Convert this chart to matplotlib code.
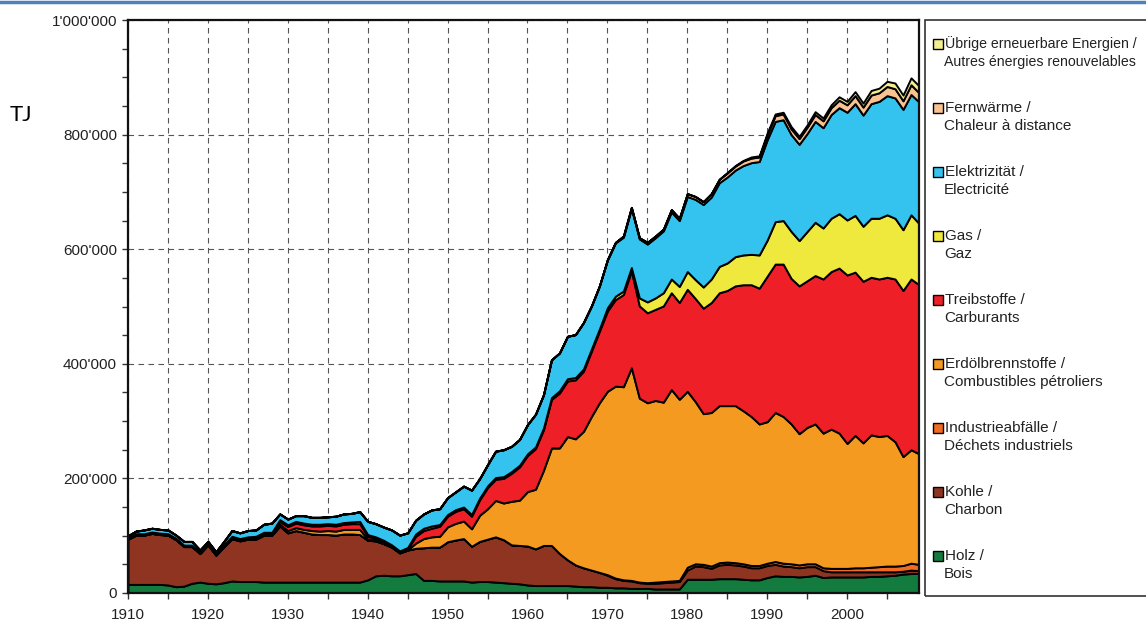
import matplotlib
matplotlib.use("Agg")
import matplotlib.pyplot as plt
from matplotlib.patches import Rectangle
from matplotlib.lines import Line2D
from matplotlib.ticker import MultipleLocator, FuncFormatter

# Endverbrauch nach Energieträgern, Werte in 1000 TJ, 1910-2009
years = list(range(1910, 2010))

holz = [15, 15, 15, 15, 15, 14, 11, 12, 17, 19,
        17, 16, 18, 21, 20, 20, 20, 19, 19, 19,
        19, 19, 19, 19, 19, 19, 19, 19, 19, 19,
        23, 30, 31, 30, 30, 32, 34, 22, 22, 21,
        21, 21, 21, 19, 20, 20, 19, 18, 17, 16,
        14, 13, 13, 13, 13, 13, 12, 11, 11, 10,
        10, 9, 9, 8, 8, 8, 7, 7, 7, 7,
        24, 24, 24, 24, 25, 25, 25, 24, 23, 23,
        27, 30, 29, 29, 28, 29, 31, 27, 28, 28,
        28, 28, 28, 29, 29, 30, 31, 33, 34, 34]

kohle = [79, 86, 86, 89, 87, 87, 82, 69, 64, 50,
         67, 50, 63, 74, 71, 74, 74, 82, 82, 98,
         86, 90, 87, 84, 83, 83, 82, 84, 84, 83,
         69, 61, 55, 50, 40, 43, 44, 57, 58, 59,
         68.5, 71.5, 74, 62.5, 70, 74, 79, 75, 67, 67,
         68, 64, 70, 70, 56, 45, 37, 33, 29, 26,
         21, 16, 13, 13, 10, 9, 10, 11, 12, 13,
         16, 23, 22, 19, 24, 25, 24, 23, 21, 21,
         21, 20, 18, 17, 16, 17, 15, 12, 9, 9,
         9, 9, 9, 8, 8, 7, 6, 5, 6, 5]

industrie = [0] * 60 + [
    1, 1, 1, 1, 1, 1, 2, 2, 2, 2,
    5, 4, 4, 4, 4, 4, 4, 4, 4, 4,
    4, 5, 5, 5, 5, 5, 5, 5, 6, 6,
    6, 7, 7, 8, 9, 10, 10, 10, 12, 11]

erdoel = [0.5, 0.5, 0.5, 0.5, 0.5, 0.5, 0.5, 0.5, 0.5, 0.5,
          0.5, 0.5, 0.5, 0.5, 0.5, 0.5, 0.5, 0.5, 0.5, 3,
          4, 5, 5, 6, 6, 7, 7, 8, 8, 9,
          2, 1, 1, 0.5, 0.5, 0.5, 9, 16, 18, 19,
          26, 29, 30.5, 30.5, 45.5, 53, 63.5, 64, 76, 79,
          95, 104, 131, 170, 184, 215, 220, 238, 268, 296,
          320, 335, 337, 371, 321, 314, 317, 313, 334, 316,
          307, 283, 263, 268, 274, 273, 274, 267, 260, 247,
          247, 260, 256, 244, 229, 238, 244, 235, 243, 236,
          218, 231, 218, 231, 227, 228, 217, 190, 198, 193]

treib = [0.5, 0.5, 0.5, 0.5, 0.5, 0.5, 0.5, 0.5, 0.5, 1,
         1, 1, 1, 2, 2, 2, 3, 3, 3, 5,
         7, 8, 8, 8, 9, 9, 9, 9, 10, 10,
         5, 3, 2, 1, 1, 2, 12, 14, 15, 17.5,
         18.5, 21, 21.5, 22, 27, 37, 37, 43, 49, 58,
         63, 71, 71, 85, 96, 97, 103, 105, 114, 125,
         140, 151, 161, 169, 161, 157, 159, 168, 169, 169,
         178, 180, 184, 192, 197, 201, 209, 220, 230, 237,
         254, 259, 266, 254, 258, 256, 259, 269, 275, 288,
         294, 285, 282, 275, 275, 276, 284, 290, 298, 295]

gas = [1.5, 1.5, 1.5, 1.5, 1.5, 1.5, 1.5, 1.5, 1.5, 1.5,
       1.5, 1.5, 1.5, 1.5, 1.5, 1.5, 1.5, 1.5, 1.5, 3,
       3, 3, 3, 3, 3, 3, 3, 3, 3, 4,
       3, 3, 3, 2.5, 2, 2, 4, 4, 4, 3,
       3, 3, 3, 3, 3, 3, 3, 3, 3, 3,
       3, 3, 3, 3, 4, 4, 4, 4, 4, 4,
       6, 6, 6, 6, 14, 19, 20, 23, 24, 28,
       31, 33, 37, 41, 46, 48, 51, 52, 53, 58,
       63, 74, 76, 82, 79, 86, 93, 89, 93, 95,
       96, 99, 96, 103, 106, 109, 106, 106, 112, 107]

elektrizitaet = [3.5, 4.5, 6.5, 6.5, 6.5, 6.5, 5.5, 6.5, 6.5, 3,
                 3, 3, 6, 10, 10, 11, 11, 14, 16, 10,
                 10, 10, 13, 12, 12, 12, 14, 15, 15, 17,
                 23, 23, 23, 26, 27.5, 25.5, 24, 25, 28, 27.5,
                 29.5, 31, 36.5, 42.5, 34, 37, 46, 47, 44, 45,
                 51, 57, 58, 66, 66, 74, 75, 81, 75, 75,
                 83, 93, 94, 103, 103, 101, 105, 108, 117, 115,
                 131, 140, 144, 143, 146, 150, 151, 156, 160, 163,
                 175, 175, 176, 169, 168, 171, 176, 175, 181, 185,
                 188, 195, 194, 200, 204, 208, 210, 210, 210, 212]

fernwaerme = [0] * 60 + [
    1, 1, 2, 2, 2, 3, 3, 3, 4, 4,
    5, 5, 5, 6, 6, 7, 7, 8, 8, 8,
    9, 10, 10, 10, 10, 11, 12, 12, 12, 13,
    13, 14, 14, 15, 15, 16, 16, 15, 17, 16]

uebrige = [0] * 75 + [
    1, 1, 1, 2, 2,
    3, 3, 3, 4, 4, 4, 5, 5, 5, 6,
    6, 7, 7, 8, 8, 9, 10, 10, 12, 12]

labels = [
    "Holz /\nBois",
    "Kohle /\nCharbon",
    "Industrieabfälle /\nDéchets industriels",
    "Erdölbrennstoffe /\nCombustibles pétroliers",
    "Treibstoffe /\nCarburants",
    "Gas /\nGaz",
    "Elektrizität /\nElectricité",
    "Fernwärme /\nChaleur à distance",
    "Übrige erneuerbare Energien /\nAutres énergies renouvelables",
]
colors = ["#137B3D", "#8E3421", "#F26B21", "#F49A20", "#EE1F27",
          "#EFE83D", "#34C3EF", "#F8C391", "#F3EE8E"]

plt.rcParams["font.family"] = ["Liberation Sans", "DejaVu Sans"]

W, H = 1146, 626
fig = plt.figure(figsize=(W / 100, H / 100), dpi=100)
ax = fig.add_axes([128 / W, 33 / H, 791 / W, 573 / H])

series = [holz, kohle, industrie, erdoel, treib, gas, elektrizitaet, fernwaerme, uebrige]
ax.stackplot(years, [[v * 1000 for v in s] for s in series],
             colors=colors, edgecolor="black", linewidth=1.4)

ax.set_xlim(1910, 2009)
ax.set_ylim(0, 1000000)
ax.xaxis.set_major_locator(MultipleLocator(10))
ax.xaxis.set_minor_locator(MultipleLocator(5))
ax.yaxis.set_major_locator(MultipleLocator(200000))
ax.yaxis.set_minor_locator(MultipleLocator(50000))
ax.yaxis.set_major_formatter(FuncFormatter(lambda v, p: f"{int(v):,}".replace(",", "'")))

ax.set_axisbelow(True)
ax.grid(which="both", axis="x", linestyle=(0, (5, 4)), color="#555555", linewidth=0.8)
ax.grid(which="major", axis="y", linestyle=(0, (5, 4)), color="#555555", linewidth=0.8)

ax.tick_params(which="both", direction="out", length=4, width=1, color="#333333")
ax.tick_params(axis="both", labelsize=11, labelcolor="#222222")
ax.tick_params(axis="x", pad=7)
ax.tick_params(axis="y", pad=4)
for sp in ax.spines.values():
    sp.set_linewidth(1.6)
    sp.set_color("#111111")

fig.text(10 / W, 1 - 115 / H, "TJ", fontsize=16, va="center", ha="left", family="Lato")

# blue rule along the top edge
fig.add_artist(Line2D([0, 1], [1 - 1.5 / H] * 2, color="#4F81BD", linewidth=2.5))

# legend box, drawn by hand so that marker sits on the first text line
fig.add_artist(Rectangle((925 / W, 1 - 596 / H), 240 / W, 576 / H,
                         fill=False, edgecolor="#333333", linewidth=1.2))
for i, (lab, col) in enumerate(zip(labels[::-1], colors[::-1])):
    y = 44 + i * 64
    fig.add_artist(Rectangle((933 / W, 1 - (y + 5) / H), 10 / W, 10 / H,
                             facecolor=col, edgecolor="black", linewidth=1))
    line1, line2 = lab.split("\n")
    fs = 10.2 if i == 0 else 11  # longest label kept inside the figure
    fig.text(945 / W, 1 - y / H, line1, fontsize=fs, va="center", ha="left", color="#222222")
    fig.text(944 / W, 1 - (y + 18) / H, line2, fontsize=fs, va="center", ha="left", color="#222222")

fig.savefig("out.png", dpi=100)
